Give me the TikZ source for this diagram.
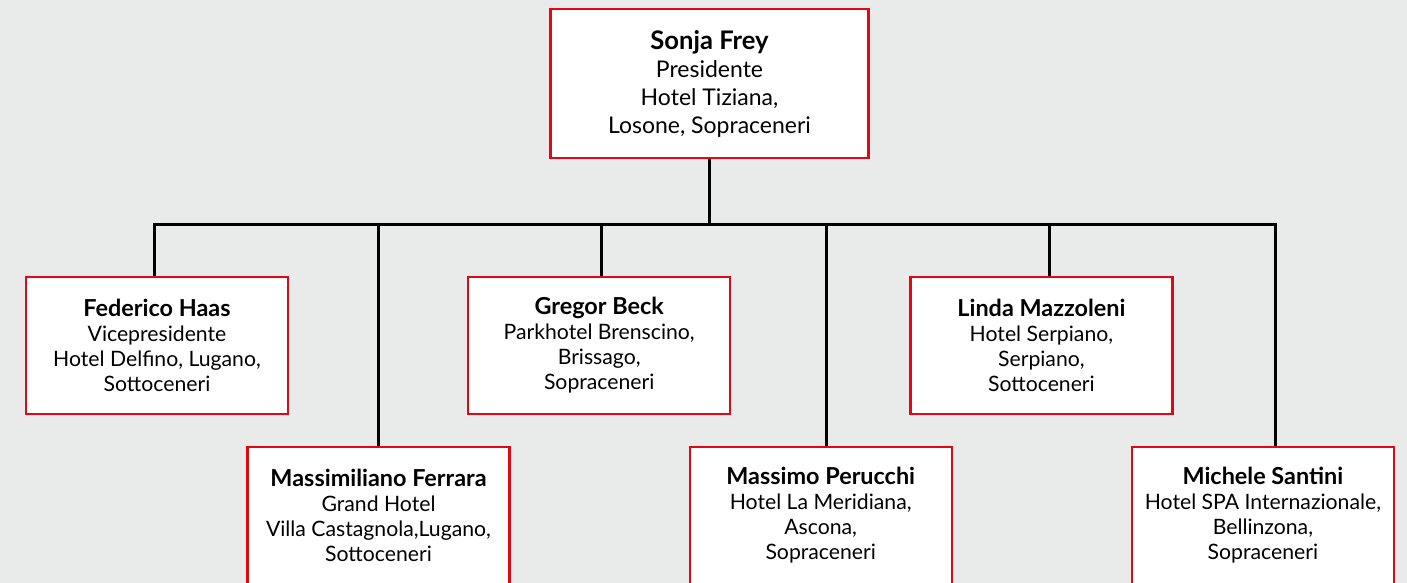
\documentclass[tikz,border=0pt]{standalone}
\usepackage{fontspec}
\setmainfont{Lato}
\usetikzlibrary{positioning}
\definecolor{boxred}{HTML}{E30613}
\definecolor{pagegray}{HTML}{E9EAEA}
\newcommand{\pname}[2][11.7]{{\fontsize{#1}{12.5}\selectfont\bfseries #2}}

\begin{document}
\begin{tikzpicture}[
    x=0.5pt, y=-0.5pt,
    person/.style={draw=boxred, line width=1.1pt, fill=white, minimum width=131pt, minimum height=68.5pt, inner sep=0pt, align=center, font=\fontsize{10.6}{12.5}\selectfont},
    chair/.style={person, minimum width=159pt, minimum height=74.5pt, font=\fontsize{11.5}{14}\selectfont},
    link/.style={draw=black, line width=1.5pt},
    node distance=89pt
]
    % Page and background
    \useasboundingbox (0,0) rectangle (1407,583);
    \fill[pagegray] (0,0) rectangle (1407,583);

    % President
    \node[chair] (sf) at (709.5,83.5) {\pname[12.8]{Sonja Frey}\\Presidente\\Hotel Tiziana,\\Losone, Sopraceneri};

    % First row - relative positioning
    \node[person] (fh) at (157,345.5) {\pname{Federico Haas}\\Vicepresidente\\Hotel Delfino, Lugano,\\Sottoceneri};
    \node[person, right=of fh] (gb) {\pname{Gregor Beck}\\Parkhotel Brenscino,\\Brissago,\\Sopraceneri};
    \node[person, right=of gb] (lm) {\pname{Linda Mazzoleni}\\Hotel Serpiano,\\Serpiano,\\Sottoceneri};

    % Second row
    \node[person] (mf) at (378.5,515.5) {\pname{Massimiliano Ferrara}\\Grand Hotel\\Villa Castagnola,Lugano,\\Sottoceneri};
    \node[person, right=of mf] (mp) {\pname{Massimo Perucchi}\\Hotel La Meridiana,\\Ascona,\\Sopraceneri};
    \node[person, right=of mp] (ms) {\pname{Michele Santini}\\Hotel SPA Internazionale,\\Bellinzona,\\Sopraceneri};

    % Bus line and drop points
    \coordinate (bus) at (709.5,224.5);
    \coordinate (fhdrop) at ([xshift=-1.25pt]fh.north);
    \coordinate (gbdrop) at ([xshift=1.25pt]gb.north);
    \coordinate (lmdrop) at ([xshift=4.25pt]lm.north);
    \coordinate (mfdrop) at (mf.north);
    \coordinate (mpdrop) at ([xshift=2.75pt]mp.north);
    \coordinate (msdrop) at ([xshift=6.25pt]ms.north);

    % Connectors
    \draw[link] (sf.south) -- (sf.south |- bus);
    \draw[link] (fhdrop) |- (msdrop |- bus) -- (msdrop);
    \draw[link] (gbdrop |- bus) -- (gbdrop);
    \draw[link] (lmdrop |- bus) -- (lmdrop);
    \draw[link] (mfdrop |- bus) -- (mfdrop);
    \draw[link] (mpdrop |- bus) -- (mpdrop);
\end{tikzpicture}
\end{document}
